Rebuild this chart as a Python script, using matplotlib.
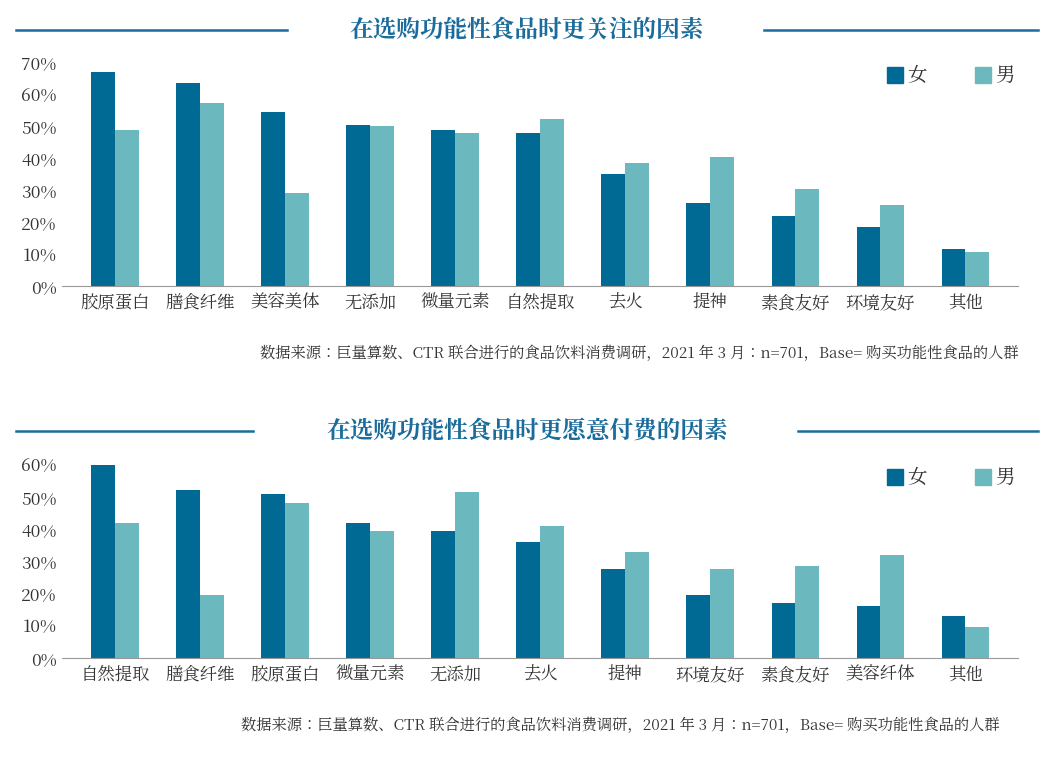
import matplotlib
matplotlib.use("Agg")
import matplotlib.pyplot as plt
from matplotlib import font_manager
import numpy as np

cjk = [f.name for f in font_manager.fontManager.ttflist if "CJK" in f.name]
pref = [n for n in cjk if n.endswith("SC")] or cjk
plt.rcParams["font.family"] = "sans-serif"
plt.rcParams["font.sans-serif"] = (pref[:1] if pref else []) + ["DejaVu Sans"]

title1 = "在选购功能性食品时更关注的因素"
cats1 = ["胶原蛋白", "膳食纤维", "美容美体", "无添加", "微量元素", "自然提取", "去火", "提神", "素食友好", "环境友好", "其他"]
female1 = [67, 63.5, 54.5, 50.5, 49, 48, 35, 26, 22, 18.5, 11.5]
male1 = [49, 57.5, 29, 50, 48, 52.5, 38.5, 40.5, 30.5, 25.5, 10.5]

title2 = "在选购功能性食品时更愿意付费的因素"
cats2 = ["自然提取", "膳食纤维", "胶原蛋白", "微量元素", "无添加", "去火", "提神", "环境友好", "素食友好", "美容纤体", "其他"]
female2 = [60.5, 52, 51, 42, 39.5, 36, 27.5, 19.5, 17, 16, 13]
male2 = [42, 19.5, 48, 39.5, 51.5, 41, 33, 27.5, 28.5, 32, 9.5]

source = "数据来源：巨量算数、CTR 联合进行的食品饮料消费调研，2021 年 3 月：n=701，Base= 购买功能性食品的人群"
legend_labels = ["女", "男"]

C_F = "#006a95"
C_M = "#6bb8bf"
C_T = "#1a6c9c"

fig = plt.figure(figsize=(10.54, 7.7), dpi=100)

def panel(rect, cats, f, m, ymax, title, title_y, src_y, src_x, lines):
    ax = fig.add_axes(rect)
    x = np.arange(len(cats))
    w = 0.28
    ax.bar(x - w / 2, f, w, color=C_F)
    ax.bar(x + w / 2, m, w, color=C_M)
    ax.set_xlim(-0.62, len(cats) - 0.38)
    ax.set_ylim(0, ymax)
    ax.set_yticks(np.arange(0, ymax + 1, 10))
    ax.set_yticklabels([f"{v}%" for v in range(0, ymax + 1, 10)], fontsize=12.5, color="#333333")
    ax.set_xticks(x)
    ax.set_xticklabels(cats, fontsize=12.5, color="#333333")
    for s in ["top", "right", "left"]:
        ax.spines[s].set_visible(False)
    ax.spines["bottom"].set_color("#999999")
    ax.tick_params(length=0, pad=6)
    ax.tick_params(axis="y", pad=4)
    lx = 0.842
    for i, (lab, c) in enumerate(zip(legend_labels, [C_F, C_M])):
        xx = lx + i * 0.083
        fig.patches.append(plt.Rectangle((xx, rect[1] + rect[3] - 0.027), 0.015, 0.021, color=c, transform=fig.transFigure))
        fig.text(xx + 0.019, rect[1] + rect[3] - 0.017, lab, fontsize=14, color="#333333", va="center")
    fig.text(0.5, title_y, title, fontsize=17, fontweight="bold", color=C_T, ha="center", va="center")
    fig.lines.append(plt.Line2D([0.015, lines[0]], [title_y, title_y], color=C_T, lw=1.8, transform=fig.transFigure))
    fig.lines.append(plt.Line2D([lines[1], 0.985], [title_y, title_y], color=C_T, lw=1.8, transform=fig.transFigure))
    fig.text(src_x, src_y, source, fontsize=11, color="#333333", ha="right", va="center")

panel([0.059, 0.6286, 0.907, 0.29], cats1, female1, male1, 70, title1, 0.961, 0.541, 0.966, (0.272, 0.725))
panel([0.059, 0.1455, 0.907, 0.251], cats2, female2, male2, 60, title2, 0.44, 0.057, 0.948, (0.24, 0.757))

fig.savefig("out.png", dpi=100)
